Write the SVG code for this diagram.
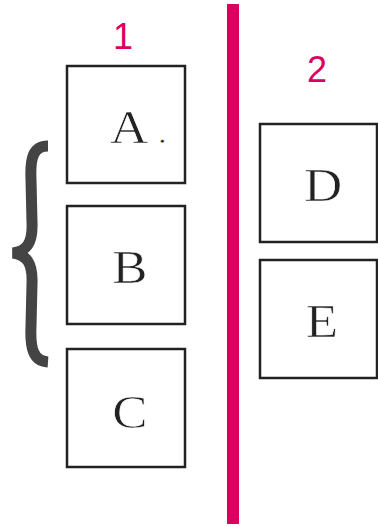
<svg xmlns="http://www.w3.org/2000/svg" width="378" height="527" viewBox="0 0 378 527">
<style>
.box{fill:#fff;stroke:#222;stroke-width:2.5}
.lbl{font-family:"Liberation Serif","Times New Roman",serif;font-size:46px;fill:#222;stroke:#fff;stroke-width:0.6;text-anchor:middle}
.num{font-family:"Liberation Sans",Arial,sans-serif;font-size:36px;fill:#d9005f;text-anchor:middle}
</style>
<rect width="378" height="527" fill="#fff"/>
<rect x="227" y="4" width="12" height="520" fill="#d9005f"/>
<text class="num" x="123" y="49">1</text>
<text class="num" x="317" y="82">2</text>
<path d="M48 146 C33 146 30 158 31 180 L32 222 C33 244 26 251 13 253 C26 255 33 262 32 284 L31 326 C30 348 33 361 48 362" fill="none" stroke="#444" stroke-width="11"/>
<g id="A"><rect class="box" x="67" y="66" width="118" height="117"/><text class="lbl" y="143" transform="translate(129 0) scale(1.15 1) translate(-129 0)"><tspan x="129">A</tspan><tspan x="158" font-size="30">.</tspan></text></g>
<g id="B"><rect class="box" x="67" y="206" width="118" height="118"/><text class="lbl" x="130" y="283" transform="translate(130 0) scale(1.15 1) translate(-130 0)">B</text></g>
<g id="C"><rect class="box" x="67" y="349" width="118" height="118"/><text class="lbl" x="130" y="428" transform="translate(130 0) scale(1.15 1) translate(-130 0)">C</text></g>
<g id="D"><rect class="box" x="260" y="124" width="117" height="118"/><text class="lbl" x="323" y="201" transform="translate(323 0) scale(1.15 1) translate(-323 0)">D</text></g>
<g id="E"><rect class="box" x="260" y="260" width="117" height="118"/><text class="lbl" x="322" y="337" transform="translate(322 0) scale(1.15 1) translate(-322 0)">E</text></g>
<g id="connectors"/>
</svg>
